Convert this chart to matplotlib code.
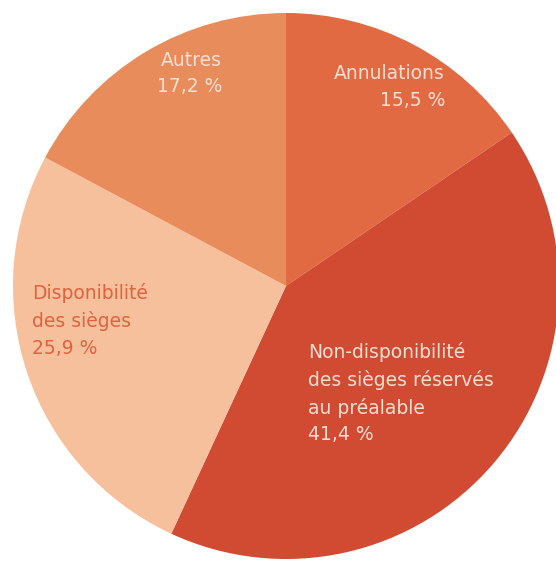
import matplotlib
matplotlib.use("Agg")
import matplotlib.pyplot as plt

# slices, clockwise from 12 o'clock
labels = ["Annulations", "Non-disponibilité\ndes sièges réservés\nau préalable",
          "Disponibilité\ndes sièges", "Autres"]
values = [15.5, 41.4, 25.9, 17.2]
value_text = ["15,5 %", "41,4 %", "25,9 %", "17,2 %"]
colors = ["#e26a42", "#d14a32", "#f7c09c", "#e98c5c"]
text_colors = ["#f7e0d2", "#f7e0d2", "#e0623e", "#f7e0d2"]

W, H = 556, 562
fig = plt.figure(figsize=(W / 100, H / 100), dpi=100)
ax = fig.add_axes([0, 0, 1, 1])

cx, cy, r = 286, H - 286, 273
ax.pie(values, colors=colors, startangle=90, counterclock=False,
       center=(cx, cy), radius=r, frame=True,
       wedgeprops=dict(linewidth=0))
ax.set_xlim(0, W)
ax.set_ylim(0, H)
ax.set_aspect("equal")
ax.axis("off")

# label anchors in pixels (x, top y), alignment
spots = [(445, 64, "right"), (308, 342, "left"), (32, 283, "left"), (222, 51, "right")]
for (x, y, ha), lab, vt, tc in zip(spots, labels, value_text, text_colors):
    ax.text(x, H - y, lab + "\n" + vt, ha=ha, va="top", color=tc,
            fontsize=13.5, linespacing=1.5, family="DejaVu Sans")

fig.savefig("out.png", dpi=100)
